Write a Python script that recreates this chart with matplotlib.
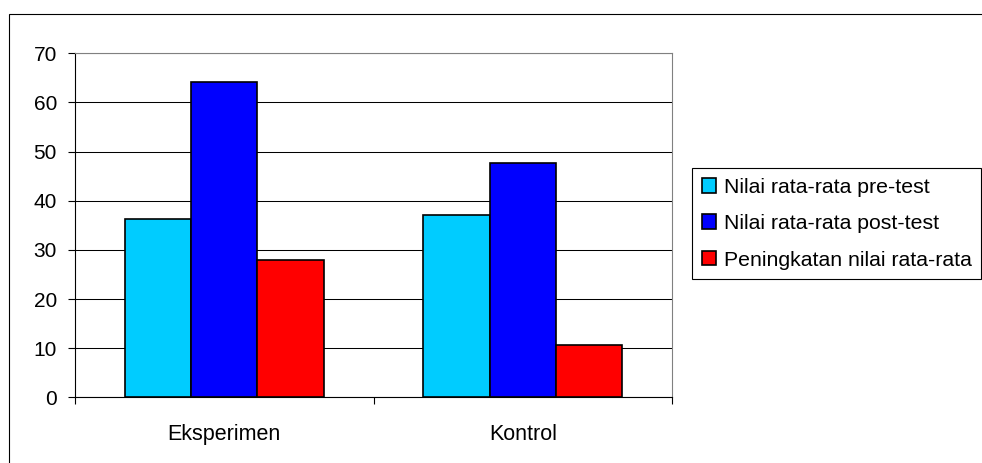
import matplotlib
matplotlib.use("Agg")
import matplotlib.pyplot as plt
import numpy as np
from matplotlib.patches import Rectangle

plt.rcParams['font.family'] = ['Liberation Sans', 'DejaVu Sans']

groups = ["Eksperimen", "Kontrol"]
series = ["Nilai rata-rata pre-test", "Nilai rata-rata post-test", "Peningkatan nilai rata-rata"]
pre_test = [36.2, 37.0]
post_test = [64.2, 47.7]
peningkatan = [27.9, 10.6]
colors = ["#00CCFF", "#0000FF", "#FF0000"]
yticks = [0, 10, 20, 30, 40, 50, 60, 70]

fig = plt.figure(figsize=(9.82, 4.63), dpi=100)
ax = fig.add_axes([75 / 982, 1 - 397.3 / 463, 597 / 982, 344 / 463])

x = np.arange(len(groups))
w = 1 / 4.5
for i, (vals, col, name) in enumerate(zip([pre_test, post_test, peningkatan], colors, series)):
    ax.bar(x + (i - 1) * w, vals, width=w, color=col, edgecolor="black",
           linewidth=1.2, label=name, zorder=3)

ax.set_xlim(-0.5, 1.5)
ax.set_ylim(0, 70)
ax.set_yticks(yticks)
ax.yaxis.grid(True, color="black", linewidth=0.75, zorder=0)
ax.set_axisbelow(True)

ax.set_xticks(x)
ax.set_xticklabels(groups)
ax.set_xticks([-0.5, 0.5, 1.5], minor=True)
ax.tick_params(axis="x", which="major", length=0, pad=19, labelsize=15.5)
ax.tick_params(axis="x", which="minor", length=5, width=0.8, direction="out")
ax.tick_params(axis="y", length=5, width=0.8, direction="out", pad=8, labelsize=15)

ax.spines["left"].set_color("black")
ax.spines["bottom"].set_color("black")
ax.spines["top"].set_color("#808080")
ax.spines["right"].set_color("#808080")
for s in ax.spines.values():
    s.set_linewidth(0.8)

# chart area border, running off the right and bottom edges
fig.patches.append(Rectangle((9.3 / 982, -0.1), 1.2, 1.1 - 14.3 / 463,
                             transform=fig.transFigure, fill=False,
                             edgecolor="black", linewidth=0.8))

leg = ax.legend(loc="upper left", bbox_to_anchor=(692 / 982, 1 - 168 / 463),
                bbox_transform=fig.transFigure, fontsize=15.3, frameon=True,
                fancybox=False, framealpha=1, edgecolor="black",
                handlelength=0.68, handleheight=0.68, handletextpad=0.35,
                labelspacing=0.82, borderpad=0.46, borderaxespad=0)
leg.get_frame().set_linewidth(0.8)

fig.savefig("out.png", dpi=100)
